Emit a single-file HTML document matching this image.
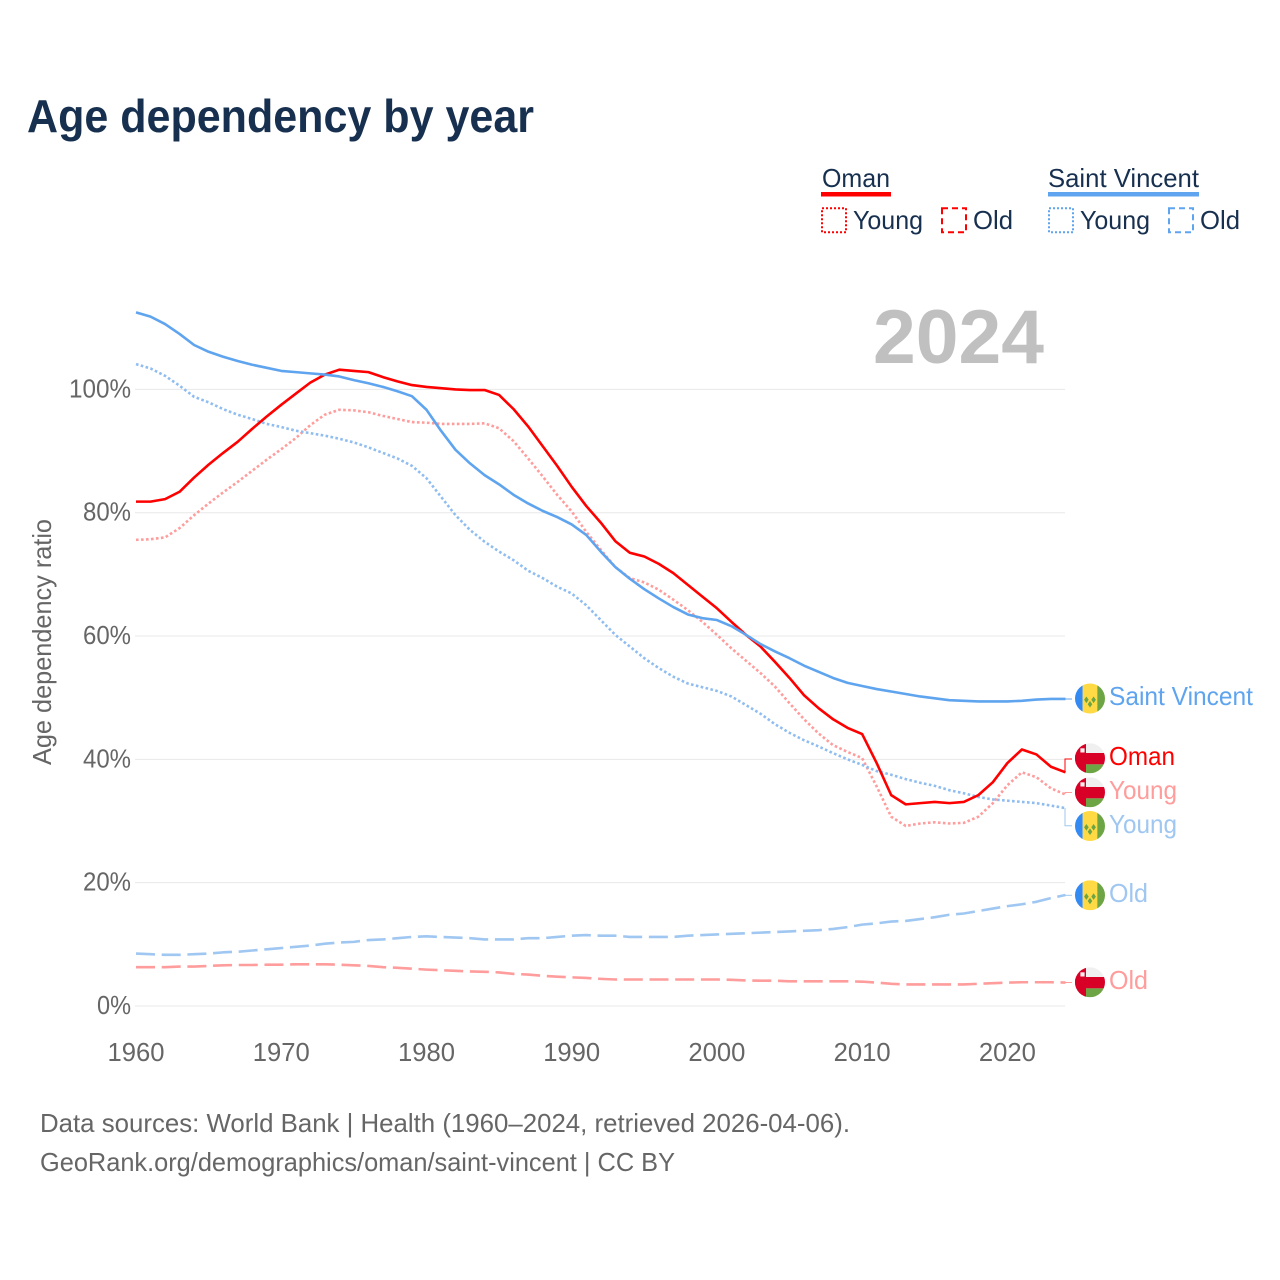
<!DOCTYPE html>
<html lang="en">
<head>
<meta charset="utf-8">
<title>Age dependency by year</title>
<style>
html,body{margin:0;padding:0;background:#fff;width:1280px;height:1280px;overflow:hidden}
svg{display:block}
text{font-family:"Liberation Sans",sans-serif}
</style>
</head>
<body>
<svg id="chart" xmlns="http://www.w3.org/2000/svg" width="1280" height="1280" viewBox="0 0 1280 1280">
  <defs>
    <clipPath id="flag-clip"><circle cx="0" cy="0" r="15"/></clipPath>
    <g id="flag-sv">
      <g clip-path="url(#flag-clip)">
        <rect x="-15" y="-15" width="7.7" height="30" fill="#338af3"/>
        <rect x="-7.3" y="-15" width="14.6" height="30" fill="#ffda44"/>
        <rect x="7.3" y="-15" width="7.7" height="30" fill="#6da544"/>
        <path d="M-3.6 -2l2.3 3.3-2.3 3.3-2.3-3.3zM3.6 -2l2.3 3.3-2.3 3.3-2.3-3.3zM0 2.4l2.3 3.3-2.3 3.3-2.3-3.3z" fill="#6da544"/>
      </g>
    </g>
    <g id="flag-om">
      <g clip-path="url(#flag-clip)">
        <rect x="-15" y="-15" width="30" height="30" fill="#f0f0f0"/>
        <rect x="-15" y="6" width="30" height="9" fill="#6da544"/>
        <rect x="-15" y="-5.3" width="30" height="11.3" fill="#d80027"/>
        <rect x="-15" y="-15" width="11" height="30" fill="#d80027"/>
        <rect x="-9.6" y="-10" width="4.2" height="4.2" fill="#f0f0f0"/>
      </g>
    </g>
  </defs>

  <text x="27" y="132" font-size="46.5" font-weight="700" fill="#17304f" textLength="507" lengthAdjust="spacingAndGlyphs">Age dependency by year</text>

  <g font-size="26" fill="#17304f">
    <text x="822" y="187" textLength="68" lengthAdjust="spacingAndGlyphs">Oman</text>
    <rect x="821" y="192" width="70" height="4.5" fill="#ff0000"/>
    <rect x="822" y="208.3" width="24" height="24" fill="none" stroke="#ff0000" stroke-width="2" stroke-dasharray="2 2"/>
    <text x="853" y="229" textLength="70" lengthAdjust="spacingAndGlyphs">Young</text>
    <rect x="942" y="208.3" width="24" height="24" fill="none" stroke="#ff0000" stroke-width="2" stroke-dasharray="6 4"/>
    <text x="973" y="229" textLength="40" lengthAdjust="spacingAndGlyphs">Old</text>

    <text x="1048" y="187" textLength="151" lengthAdjust="spacingAndGlyphs">Saint Vincent</text>
    <rect x="1048" y="192" width="151" height="4.5" fill="#5fa4ee"/>
    <rect x="1049" y="208.3" width="24" height="24" fill="none" stroke="#5fa4ee" stroke-width="2" stroke-dasharray="2 2"/>
    <text x="1080" y="229" textLength="70" lengthAdjust="spacingAndGlyphs">Young</text>
    <rect x="1169" y="208.3" width="24" height="24" fill="none" stroke="#5fa4ee" stroke-width="2" stroke-dasharray="6 4"/>
    <text x="1200" y="229" textLength="40" lengthAdjust="spacingAndGlyphs">Old</text>
  </g>

  <g id="grid"></g>
  <text x="873" y="363" font-size="76" font-weight="700" fill="#c0c0c0" textLength="171" lengthAdjust="spacingAndGlyphs">2024</text>
  <g id="y-ticks"></g>
  <g id="x-ticks"></g>
  <text transform="translate(51,765) rotate(-90)" font-size="26" fill="#666666" textLength="246" lengthAdjust="spacingAndGlyphs">Age dependency ratio</text>
  <g id="series"></g>

  <g font-size="26">
    <path d="M1065 699H1072" fill="none" stroke="#5fa4ee" stroke-width="1"/>
    <path d="M1065 772V759H1072" fill="none" stroke="#ff0000" stroke-width="1"/>
    <path d="M1065 794V792.5H1072" fill="none" stroke="#ff9c9c" stroke-width="1"/>
    <path d="M1065 808V825.7H1072" fill="none" stroke="#9fc7f1" stroke-width="1"/>
    <path d="M1065 895.3H1072" fill="none" stroke="#9fc7f1" stroke-width="1"/>
    <path d="M1065 982.5H1072" fill="none" stroke="#ff9c9c" stroke-width="1"/>

    <use href="#flag-sv" x="1090" y="698.5"/>
    <use href="#flag-om" x="1090" y="758.3"/>
    <use href="#flag-om" x="1090" y="792.3"/>
    <use href="#flag-sv" x="1090" y="826"/>
    <use href="#flag-sv" x="1090" y="895.3"/>
    <use href="#flag-om" x="1090" y="982.3"/>

    <text x="1109" y="705" fill="#5fa4ee" textLength="144" lengthAdjust="spacingAndGlyphs">Saint Vincent</text>
    <text x="1109" y="765" fill="#ff0000" textLength="66" lengthAdjust="spacingAndGlyphs">Oman</text>
    <text x="1109" y="799" fill="#ff9c9c" textLength="68" lengthAdjust="spacingAndGlyphs">Young</text>
    <text x="1109" y="833" fill="#9fc7f1" textLength="68" lengthAdjust="spacingAndGlyphs">Young</text>
    <text x="1109" y="902" fill="#9fc7f1" textLength="39" lengthAdjust="spacingAndGlyphs">Old</text>
    <text x="1109" y="989" fill="#ff9c9c" textLength="39" lengthAdjust="spacingAndGlyphs">Old</text>
  </g>

  <g font-size="26" fill="#666666">
    <text x="40" y="1132" textLength="810" lengthAdjust="spacingAndGlyphs">Data sources: World Bank | Health (1960–2024, retrieved 2026-04-06).</text>
    <text x="40" y="1171" textLength="635" lengthAdjust="spacingAndGlyphs">GeoRank.org/demographics/oman/saint-vincent | CC BY</text>
  </g>
</svg>

<script>
const startYear = 1960;
const yTickValues = [0, 20, 40, 60, 80, 100];
const xTickValues = [1960, 1970, 1980, 1990, 2000, 2010, 2020];

const omanTotal = [81.8,81.8,82.2,83.4,85.7,87.8,89.7,91.5,93.6,95.6,
  97.5,99.3,101.1,102.4,103.2,103.0,102.8,102.0,101.3,100.7,
  100.4,100.2,100.0,99.9,99.9,99.1,96.8,94.0,90.8,87.6,
  84.2,81.1,78.4,75.4,73.5,72.9,71.7,70.2,68.3,66.4,
  64.5,62.3,60.2,58.3,55.8,53.2,50.4,48.3,46.5,45.1,
  44.1,39.4,34.2,32.7,32.9,33.1,32.9,33.1,34.2,36.3,
  39.4,41.6,40.8,38.8,37.9];
const omanYoung = [75.6,75.7,76.0,77.5,79.6,81.5,83.3,85.0,86.8,88.6,
  90.3,92.1,94.2,95.9,96.7,96.6,96.3,95.7,95.2,94.7,
  94.6,94.4,94.4,94.4,94.5,93.7,91.6,88.8,85.9,82.9,
  80.2,76.9,74.0,71.2,69.4,68.7,67.5,65.9,64.2,62.3,
  60.2,58.0,56.0,54.0,51.8,49.1,46.5,44.2,42.3,41.2,
  40.2,35.6,30.7,29.2,29.6,29.8,29.6,29.7,30.7,32.9,
  35.8,37.9,37.1,35.3,34.3];
const omanOld = [6.3,6.3,6.3,6.4,6.4,6.5,6.6,6.65,6.65,6.7,
  6.7,6.76,6.76,6.76,6.7,6.6,6.5,6.3,6.2,6.05,
  5.9,5.8,5.7,5.6,5.55,5.45,5.2,5.1,4.9,4.75,
  4.65,4.55,4.4,4.3,4.3,4.3,4.3,4.3,4.3,4.3,
  4.3,4.25,4.15,4.1,4.1,4.0,4.0,4.0,4.0,4.0,
  3.95,3.8,3.6,3.5,3.5,3.5,3.5,3.5,3.6,3.7,
  3.8,3.85,3.85,3.85,3.8];
const svTotal = [112.5,111.8,110.6,109.0,107.2,106.1,105.3,104.6,104.0,103.5,
  103.0,102.8,102.6,102.4,102.1,101.5,101.0,100.4,99.7,98.9,
  96.7,93.3,90.2,88.0,86.1,84.6,82.9,81.5,80.3,79.3,
  78.1,76.4,73.7,71.2,69.3,67.6,66.1,64.7,63.5,62.9,
  62.6,61.6,60.2,58.7,57.5,56.4,55.2,54.2,53.2,52.4,
  51.9,51.4,51.0,50.6,50.2,49.9,49.6,49.5,49.4,49.4,
  49.4,49.5,49.7,49.8,49.8];
const svYoung = [104.1,103.4,102.2,100.6,98.8,97.9,96.8,95.9,95.2,94.4,
  93.9,93.3,92.9,92.5,92.0,91.4,90.6,89.7,88.8,87.6,
  85.6,82.6,79.6,77.2,75.3,73.7,72.3,70.6,69.4,68.0,
  66.9,65.0,62.6,60.2,58.3,56.4,54.8,53.4,52.3,51.7,
  51.1,50.2,48.8,47.4,45.7,44.3,43.1,42.1,41.0,40.0,
  39.1,38.1,37.5,36.8,36.2,35.7,35.0,34.5,33.9,33.5,
  33.3,33.1,32.9,32.5,32.1];
const svOld = [8.5,8.4,8.3,8.3,8.4,8.5,8.7,8.8,9.0,9.2,
  9.4,9.6,9.8,10.1,10.3,10.4,10.7,10.8,11.0,11.2,
  11.3,11.2,11.1,11.0,10.8,10.8,10.8,11.0,11.0,11.2,
  11.4,11.5,11.4,11.4,11.2,11.2,11.2,11.2,11.4,11.5,
  11.6,11.7,11.8,11.9,12.0,12.1,12.2,12.3,12.5,12.8,
  13.2,13.4,13.7,13.8,14.1,14.4,14.8,15.0,15.4,15.8,
  16.2,16.5,16.9,17.5,18.0];

const SVG_NS = 'http://www.w3.org/2000/svg';
function xScale(year) { return 136 + (year - 1960) * 14.523; }
function yScale(pct) { return 1006 - pct * 6.166; }
function linePath(values) {
  return values.map(function (v, i) {
    return (i ? 'L' : 'M') + xScale(startYear + i).toFixed(2) + ' ' + yScale(v).toFixed(2);
  }).join('');
}

const gridLayer = document.getElementById('grid');
const yTickLayer = document.getElementById('y-ticks');
const xTickLayer = document.getElementById('x-ticks');
const seriesLayer = document.getElementById('series');

yTickValues.forEach(function (v) {
  const line = document.createElementNS(SVG_NS, 'line');
  
  
  line.setAttribute('x1', 135);
  line.setAttribute('x2', 1065);
  line.setAttribute('y1', yScale(v));
  line.setAttribute('y2', yScale(v));
  line.setAttribute('stroke', '#e8e8e8');
  line.setAttribute('stroke-width', 1);
  gridLayer.appendChild(line);

  const label = document.createElementNS(SVG_NS, 'text');
  
  
  label.setAttribute('x', 131);
  label.setAttribute('y', yScale(v) + 8);
  label.setAttribute('text-anchor', 'end');
  label.setAttribute('font-size', 26);
  label.setAttribute('fill', '#666666');
  label.setAttribute('textLength', v === 100 ? 62 : (v === 0 ? 34 : 48));
  label.setAttribute('lengthAdjust', 'spacingAndGlyphs');
  label.textContent = v + '%';
  yTickLayer.appendChild(label);
});

xTickValues.forEach(function (year) {
  const label = document.createElementNS(SVG_NS, 'text');
  
  
  label.setAttribute('x', xScale(year));
  label.setAttribute('y', 1061);
  label.setAttribute('text-anchor', 'middle');
  label.setAttribute('font-size', 26);
  label.setAttribute('fill', '#666666');
  label.setAttribute('textLength', 57);
  label.setAttribute('lengthAdjust', 'spacingAndGlyphs');
  label.textContent = year;
  xTickLayer.appendChild(label);
});

function drawSeries(values, name, color, dash) {
  const path = document.createElementNS(SVG_NS, 'path');
  
  
  path.setAttribute('d', linePath(values));
  path.setAttribute('fill', 'none');
  path.setAttribute('stroke', color);
  path.setAttribute('stroke-width', 2.6);
  path.setAttribute('stroke-linejoin', 'round');
  if (dash) path.setAttribute('stroke-dasharray', dash);
  seriesLayer.appendChild(path);
}

drawSeries(omanOld, 'line-oman-old', '#ff9c9c', '19 6.7');
drawSeries(omanYoung, 'line-oman-young', '#ff9c9c', '2.6 2.4');
drawSeries(svOld, 'line-saint-vincent-old', '#9fc7f1', '19 6.7');
drawSeries(svYoung, 'line-saint-vincent-young', '#8fbdf0', '2.6 2.4');
drawSeries(omanTotal, 'line-oman-total', '#ff0000', null);
drawSeries(svTotal, 'line-saint-vincent-total', '#5fa4ee', null);
</script>
</body>
</html>
